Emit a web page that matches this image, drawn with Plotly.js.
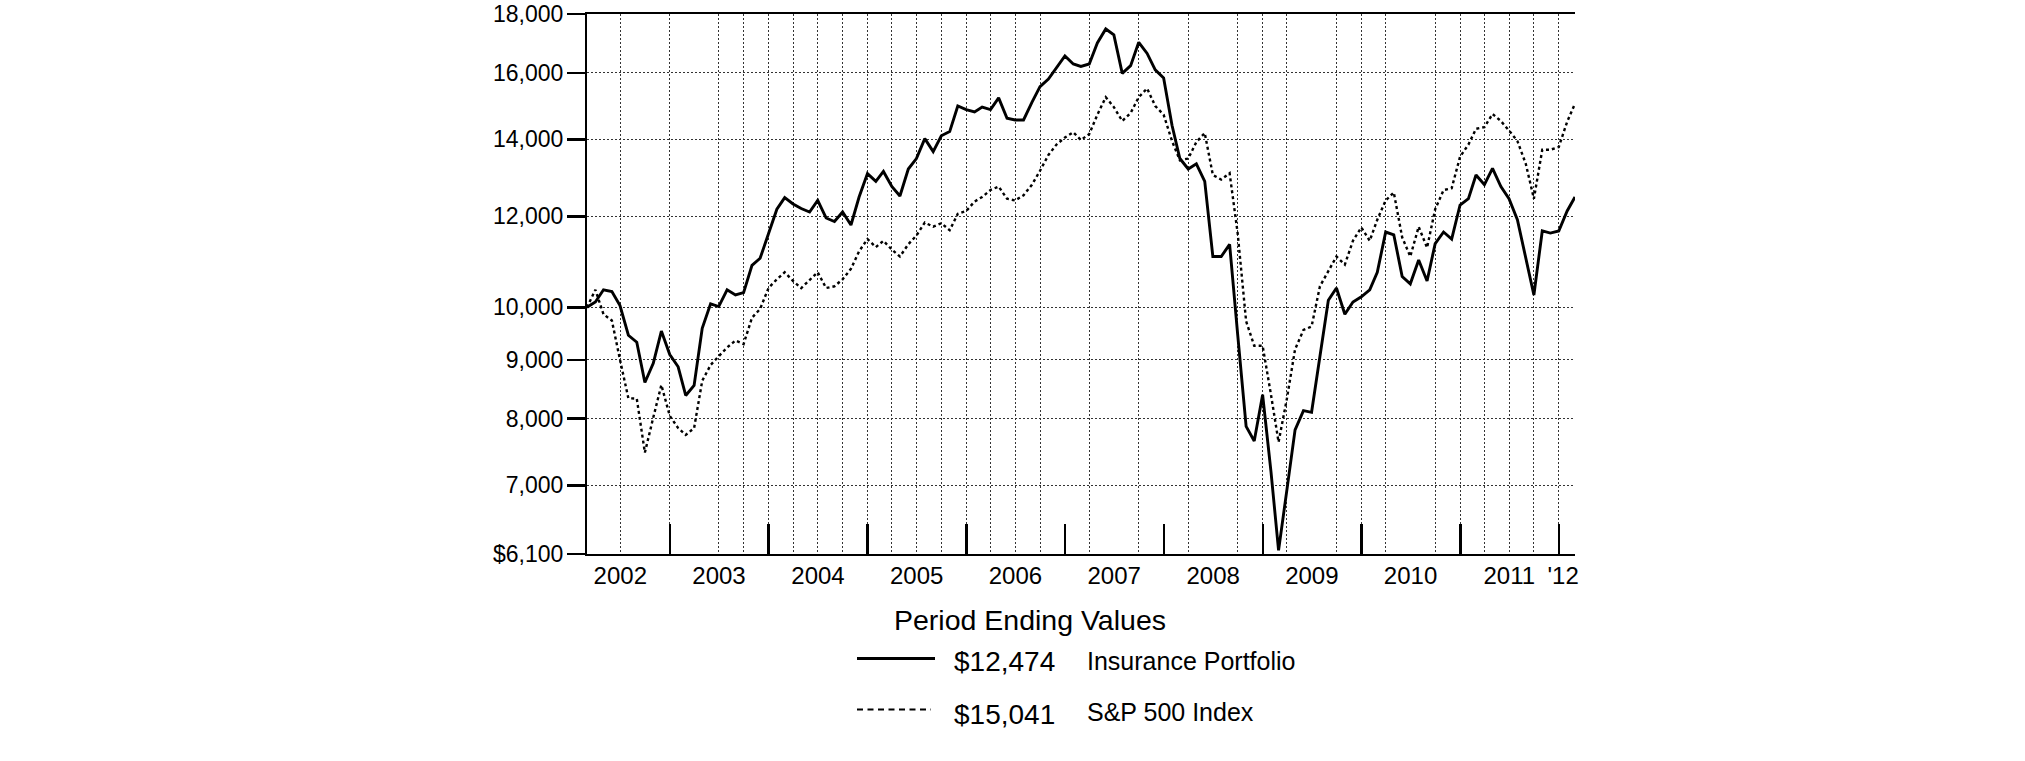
<!DOCTYPE html>
<html>
<head>
<meta charset="utf-8">
<script src="https://cdn.plot.ly/plotly-3.0.1.min.js"></script>
<style>
  html, body { margin: 0; padding: 0; background: #ffffff; }
  #chart { width: 2025px; height: 761px; }
</style>
</head>
<body>
<div id="chart"></div>
<script>
// ---------------- DATA ----------------
// Monthly period-ending values, first point = end of Feb 2002, last = end of Feb 2012
const startYear = 2002;
const startMonth = 2; // February

const insurance = [
  10000, 10107, 10358, 10322, 10036, 9456, 9324, 8601, 8939, 9536, 9097, 8877,
  8381, 8553, 9590, 10071, 10015, 10358, 10250, 10300, 10879, 11033, 11588, 12172,
  12457, 12302, 12190, 12105, 12388, 11961, 11877, 12105, 11794, 12474, 13074, 12873,
  13129, 12739, 12500, 13194, 13474, 14023, 13664, 14102, 14221, 14969, 14864, 14791,
  14937, 14864, 15215, 14608, 14557, 14557, 15077, 15560, 15802, 16172, 16551, 16286,
  16207, 16286, 16985, 17468, 17260, 15981, 16230, 17009, 16632, 16093, 15835, 14404,
  13474, 13194, 13333, 12873, 11072, 11072, 11346, 9456, 7878, 7649, 8393, 7192,
  6144, 6944, 7823, 8131, 8103, 9066, 10142, 10394, 9862, 10107, 10214, 10358,
  10728, 11629, 11564, 10638, 10482, 10995, 10541, 11362, 11629, 11466, 12276, 12431,
  13037, 12784, 13212, 12739, 12431, 11919, 11033, 10250, 11654, 11605, 11654, 12129,
  12474
];

const sp500 = [
  10000, 10358, 9862, 9739, 9002, 8334, 8328, 7475, 8018, 8559, 8046, 7851,
  7743, 7851, 8631, 8908, 9066, 9226, 9356, 9291, 9793, 9966, 10394, 10578,
  10728, 10541, 10394, 10563, 10728, 10394, 10431, 10578, 10803, 11188, 11466, 11283,
  11426, 11228, 11072, 11346, 11547, 11852, 11753, 11836, 11671, 12061, 12129, 12361,
  12474, 12650, 12739, 12431, 12388, 12518, 12784, 13147, 13569, 13857, 14053, 14201,
  13984, 14151, 14711, 15236, 14937, 14526, 14760, 15236, 15506, 14969, 14711, 13955,
  13427, 13474, 13926, 14181, 13037, 12918, 13083, 11588, 9725, 9259, 9259, 8393,
  7633, 8334, 9194, 9556, 9623, 10431, 10765, 11072, 10894, 11426, 11737, 11426,
  11919, 12388, 12588, 11507, 11072, 11753, 11268, 12172, 12650, 12695, 13522, 13857,
  14300, 14350, 14731, 14526, 14251, 13955, 13333, 12431, 13713, 13713, 13790, 14506,
  15041
];

const seriesNames = ['Insurance Portfolio', 'S&P 500 Index'];
const legendTitle = 'Period Ending Values';

const yTickVals = [6100, 7000, 8000, 9000, 10000, 12000, 14000, 16000, 18000];
const yTickText = ['$6,100', '7,000', '8,000', '9,000', '10,000', '12,000', '14,000', '16,000', '18,000'];

const yearLabels = ['2002', '2003', '2004', '2005', '2006', '2007', '2008', '2009', '2010', '2011', "'12"];
const yearLabelDates = ['2002-07-01', '2003-07-01', '2004-07-01', '2005-07-01', '2006-07-01',
  '2007-07-01', '2008-07-01', '2009-07-01', '2010-07-01', '2011-07-01', '2012-01-16'];

const yearTickDates = ['2003-01-01', '2004-01-01', '2005-01-01', '2006-01-01', '2007-01-01',
  '2008-01-01', '2009-01-01', '2010-01-01', '2011-01-01', '2012-01-01'];

const gridDates = [
  '2002-06-30', '2002-12-31', '2003-06-30', '2003-09-30',
  '2003-12-31', '2004-03-31', '2004-06-30', '2004-09-30',
  '2004-12-31', '2005-03-31', '2005-06-30', '2005-09-30',
  '2005-12-31', '2006-03-31', '2006-06-30', '2006-09-30',
  '2007-03-31', '2007-09-30',
  '2008-03-31', '2008-09-30',
  '2008-12-31', '2009-03-31', '2009-09-30',
  '2009-12-31', '2010-03-31', '2010-09-30',
  '2010-12-31', '2011-03-31', '2011-06-30', '2011-09-30',
  '2011-12-31'
];

// ---------------- BUILD ----------------
function monthEnd(i) {
  const d = new Date(Date.UTC(startYear, startMonth + i, 0));
  return d.toISOString().slice(0, 10);
}
const dates = insurance.map((_, i) => monthEnd(i));
const xRange = [dates[0], dates[dates.length - 1]];
const money = v => '$' + v.toLocaleString('en-US');

const FONT = 'Liberation Sans, Arial, Helvetica, sans-serif';

const traces = [
  {
    x: dates, y: insurance, type: 'scatter', mode: 'lines', name: seriesNames[0],
    line: { color: '#000000', width: 2.9 }, xaxis: 'x', yaxis: 'y', hoverinfo: 'skip'
  },
  {
    x: dates, y: sp500, type: 'scatter', mode: 'lines', name: seriesNames[1],
    line: { color: '#000000', width: 2.4, dash: '3px,3px' }, xaxis: 'x2', yaxis: 'y', hoverinfo: 'skip'
  }
];

// plot area in pixels
const L = 587, R = 1575, T = 14, B = 554;
const W = R - L, H = B - T;
const px = x => (x - L) / W;
const py = y => (B - y) / H;

const legendFont = { family: FONT, color: '#000', size: 25 };
const valueFont = { family: FONT, color: '#000', size: 28 };

const annotations = [
  { text: legendTitle, x: px(1030), y: py(620), xanchor: 'center', yanchor: 'middle',
    font: { family: FONT, color: '#000', size: 28.5 } },
  { text: money(insurance[insurance.length - 1]), x: px(952), y: py(661.5), xanchor: 'left', yanchor: 'middle', font: valueFont },
  { text: seriesNames[0], x: px(1085), y: py(661.5), xanchor: 'left', yanchor: 'middle', font: legendFont },
  { text: money(sp500[sp500.length - 1]), x: px(952), y: py(714.5), xanchor: 'left', yanchor: 'middle', font: valueFont },
  { text: seriesNames[1], x: px(1085), y: py(712), xanchor: 'left', yanchor: 'middle', font: legendFont }
].map(a => Object.assign({ xref: 'paper', yref: 'paper', showarrow: false }, a));

const shapes = [
  { type: 'line', xref: 'paper', yref: 'paper', x0: px(857), x1: px(935), y0: py(658.5), y1: py(658.5),
    line: { color: '#000', width: 3.2 } },
  { type: 'line', xref: 'paper', yref: 'paper', x0: px(857), x1: px(931), y0: py(709.5), y1: py(709.5),
    line: { color: '#000', width: 2.2, dash: '6px,4.5px' } }
];

const gridStyle = { gridcolor: '#333333', gridwidth: 1, griddash: '2px,2px' };

const layout = {
  width: 2025, height: 761,
  margin: { l: L, r: 2025 - R, t: T, b: 761 - B, pad: 0 },
  paper_bgcolor: '#ffffff', plot_bgcolor: '#ffffff',
  showlegend: false,
  font: { family: FONT, color: '#000' },
  xaxis: {
    type: 'date', range: xRange, autorange: false, fixedrange: true,
    tickmode: 'array', tickvals: yearLabelDates, ticktext: yearLabels,
    ticks: '', showgrid: false, zeroline: false,
    showline: true, linecolor: '#000', linewidth: 2, mirror: true,
    tickfont: { family: FONT, size: 24, color: '#000' },
    ticklabelstandoff: -1,
    minor: Object.assign({ tickmode: 'array', tickvals: gridDates, showgrid: true, ticks: '' }, gridStyle)
  },
  xaxis2: {
    type: 'date', range: xRange, autorange: false, fixedrange: true,
    overlaying: 'x', anchor: 'y', side: 'bottom',
    tickmode: 'array', tickvals: yearTickDates,
    ticks: 'inside', ticklen: 30, tickwidth: 2.6, tickcolor: '#000',
    showticklabels: false, showgrid: false, showline: false, zeroline: false
  },
  xaxis3: {
    type: 'date', range: xRange, autorange: false, fixedrange: true,
    overlaying: 'x', anchor: 'y', side: 'bottom',
    tickmode: 'array', tickvals: yearTickDates,
    ticks: 'outside', ticklen: 4, tickwidth: 2.6, tickcolor: '#000',
    showticklabels: false, showgrid: false, showline: false, zeroline: false
  },
  yaxis: {
    type: 'log', range: [Math.log10(6100), Math.log10(18000)], autorange: false, fixedrange: true,
    tickmode: 'array', tickvals: yTickVals, ticktext: yTickText,
    ticks: 'outside', ticklen: 18, tickwidth: 2.5, tickcolor: '#000',
    showline: true, linecolor: '#000', linewidth: 2, zeroline: false,
    showgrid: true, gridcolor: gridStyle.gridcolor, gridwidth: 1, griddash: gridStyle.griddash,
    tickfont: { family: FONT, size: 23, color: '#000' },
    ticklabelstandoff: -1
  },
  annotations: annotations,
  shapes: shapes
};

Plotly.newPlot('chart', traces, layout, { staticPlot: true, displayModeBar: false });
</script>
</body>
</html>
